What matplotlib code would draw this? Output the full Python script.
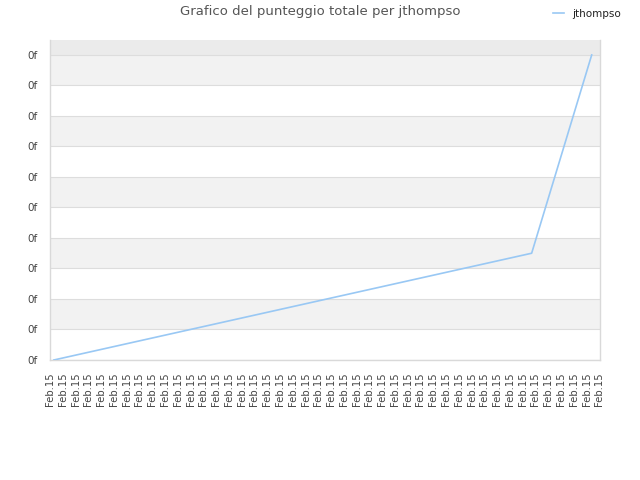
import matplotlib
matplotlib.use("Agg")
import matplotlib.pyplot as plt
from matplotlib.lines import Line2D

title = "Grafico del punteggio totale per jthompso"
series_name = "jthompso"
x_tick_labels = ["Feb.15"] * 44
y_tick_labels = ["0f"] * 11
x_values = [0.3, 37.7, 42.4]
y_values = [0.0, 3.5, 10.0]

fig = plt.figure(figsize=(6.4, 4.8), dpi=100)
ax = fig.add_axes([50/640, 120/480, 550/640, 320/480])

ax.set_xlim(0, 43.05)
ax.set_ylim(0, 10.49)

# alternating bands
for i in range(10):
    if i % 2 == 1:
        ax.axhspan(i, i + 1, color="#f2f2f2", zorder=0, lw=0)
ax.axhspan(10, 10.49, color="#ebebeb", zorder=0, lw=0)
for i in range(11):
    ax.axhline(i, color="#dddddd", lw=0.8, zorder=1)

ax.plot(x_values, y_values, color="#99c8f4", lw=1.2, zorder=3)

ax.set_xticks(range(len(x_tick_labels)))
ax.set_xticklabels(x_tick_labels, rotation=90, fontsize=7.2, color="#444444")
ax.set_yticks(range(len(y_tick_labels)))
ax.set_yticklabels(y_tick_labels, fontsize=7.5, color="#444444")
ax.tick_params(axis="y", length=0, pad=9)
ax.tick_params(axis="x", length=0, pad=9)

for s in ["left", "bottom", "right", "top"]:
    ax.spines[s].set_color("#d9d9d9")
    ax.spines[s].set_linewidth(1)
ax.spines["top"].set_visible(False)

fig.text(0.5, 1 - 12/480, title, ha="center", va="center", fontsize=9.5, color="#555555")

handle = Line2D([0], [0], color="#99c8f4", lw=1.2)
fig.legend([handle], [series_name], loc="center right", bbox_to_anchor=(630/640, 1 - 14/480),
           frameon=False, fontsize=7.5, handlelength=1.0, handletextpad=0.8,
           labelcolor="#222222")

fig.savefig("out.png", dpi=100, facecolor="white")
